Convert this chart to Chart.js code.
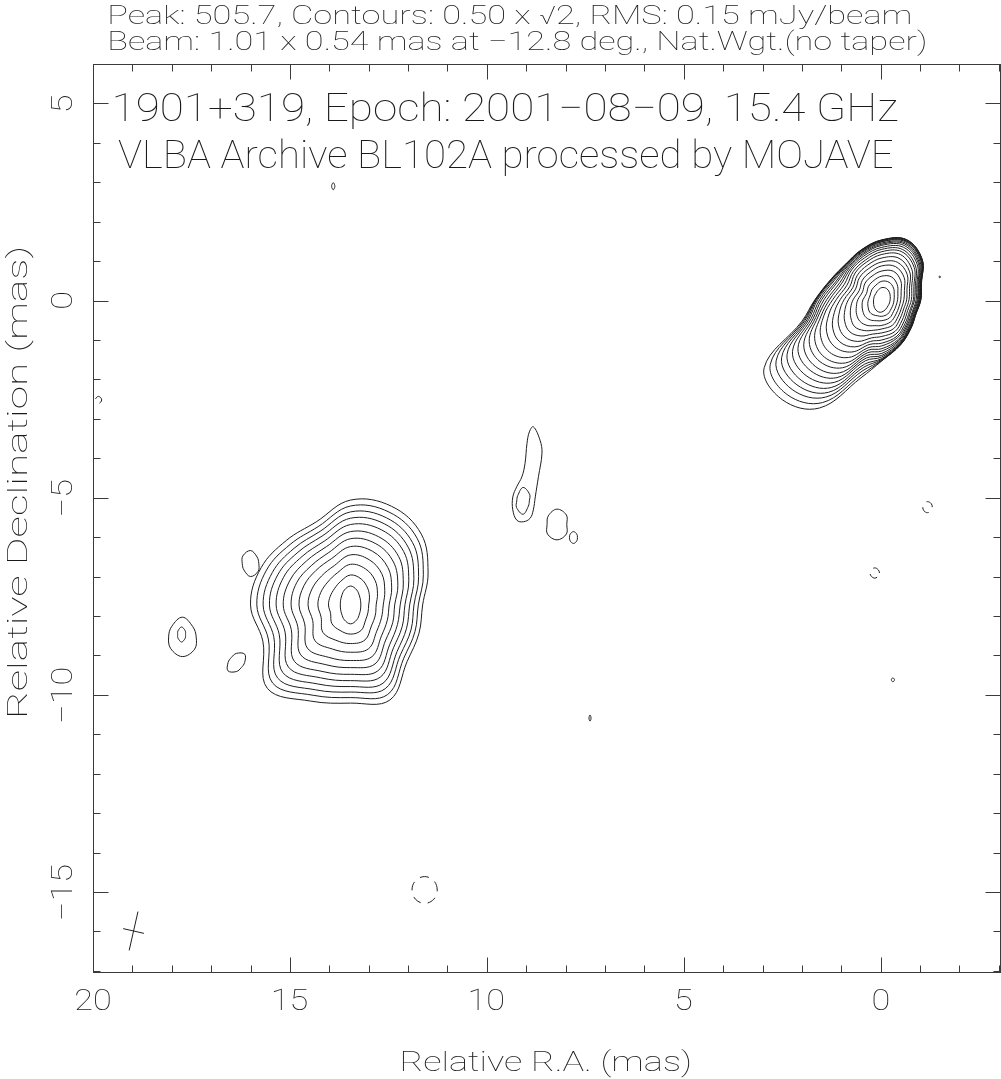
<!DOCTYPE html>
<html>
<head>
<meta charset="utf-8">
<script src="https://cdn.jsdelivr.net/npm/chart.js@4.4.1/dist/chart.umd.min.js"></script>
<style>
  html, body { margin: 0; padding: 0; background: #fff; }
  #wrap { width: 1001px; height: 1079px; }
</style>
</head>
<body>
<div id="wrap"><canvas id="map" width="1001" height="1079"></canvas></div>
<script>
// ---------------------------------------------------------
// Map data (mas). RA runs right-to-left.
// ---------------------------------------------------------
const xRange = [-3.03, 20.0];
const yRange = [-17.03, 6.0];
const xTickLabels = [20, 15, 10, 5, 0];
const yTickLabels = [5, 0, -5, -10, -15];

const headerLines = [
  'Peak: 505.7, Contours: 0.50 x \u221A2, RMS: 0.15 mJy/beam',
  'Beam: 1.01 x 0.54 mas at \u221212.8 deg., Nat.Wgt.(no taper)'
];
const titleLines = [
  '1901+319, Epoch: 2001\u221208\u221209, 15.4 GHz',
  'VLBA Archive BL102A processed by MOJAVE'
];
const xTitle = 'Relative R.A. (mas)';
const yTitle = 'Relative Declination (mas)';

// core: contour radii (mas) read along fixed directions, peak outwards
// direction 0 = towards the right of the map, counter-clockwise
const coreCentre = [-0.03, 0.02];
const coreAngles = [0, 22.5, 45, 67.5, 90, 112.5, 135, 157.5, 180, 195, 210, 225, 240, 255, 270, 292.5, 315, 337.5];
const coreRadii = [
  [0.21,0.23,0.27,0.31,0.31,0.26,0.22,0.21,0.21,0.22,0.24,0.27,0.30,0.32,0.31,0.26,0.22,0.21],
  [0.31,0.34,0.42,0.48,0.47,0.40,0.36,0.32,0.34,0.37,0.40,0.44,0.44,0.42,0.42,0.39,0.33,0.31],
  [0.40,0.44,0.55,0.63,0.60,0.53,0.48,0.42,0.48,0.52,0.56,0.60,0.59,0.55,0.53,0.50,0.42,0.39],
  [0.48,0.53,0.68,0.78,0.73,0.65,0.60,0.53,0.61,0.67,0.74,0.78,0.75,0.68,0.65,0.60,0.51,0.47],
  [0.56,0.62,0.80,0.91,0.86,0.76,0.70,0.62,0.73,0.82,0.91,0.97,0.90,0.80,0.74,0.70,0.59,0.54],
  [0.63,0.69,0.91,1.03,0.96,0.86,0.80,0.72,0.85,0.97,1.09,1.15,1.06,0.90,0.84,0.79,0.66,0.60],
  [0.69,0.76,1.00,1.14,1.06,0.95,0.88,0.80,0.96,1.11,1.27,1.33,1.22,1.00,0.93,0.87,0.73,0.66],
  [0.75,0.82,1.08,1.24,1.15,1.03,0.96,0.88,1.06,1.25,1.44,1.51,1.38,1.09,1.02,0.94,0.79,0.71],
  [0.80,0.88,1.16,1.32,1.22,1.09,1.02,0.96,1.16,1.39,1.62,1.69,1.53,1.17,1.10,1.00,0.84,0.76],
  [0.83,0.92,1.21,1.38,1.28,1.15,1.08,1.03,1.25,1.52,1.80,1.88,1.69,1.25,1.17,1.04,0.88,0.79],
  [0.87,0.96,1.27,1.44,1.33,1.20,1.12,1.10,1.33,1.60,1.97,2.06,1.85,1.32,1.24,1.09,0.91,0.83],
  [0.90,0.99,1.31,1.49,1.38,1.24,1.16,1.15,1.40,1.68,2.13,2.22,1.99,1.39,1.30,1.12,0.94,0.85],
  [0.92,1.01,1.34,1.53,1.41,1.27,1.19,1.21,1.47,1.74,2.29,2.39,2.14,1.46,1.36,1.15,0.97,0.87],
  [0.94,1.03,1.37,1.56,1.44,1.30,1.22,1.25,1.53,1.80,2.46,2.55,2.28,1.53,1.41,1.18,0.99,0.89],
  [0.95,1.05,1.40,1.59,1.47,1.32,1.24,1.30,1.58,1.86,2.62,2.72,2.42,1.60,1.45,1.20,1.00,0.91],
  [0.97,1.06,1.41,1.61,1.48,1.34,1.26,1.33,1.63,1.92,2.78,2.89,2.57,1.69,1.49,1.21,1.02,0.92],
  [0.97,1.07,1.43,1.62,1.50,1.35,1.27,1.36,1.66,1.97,2.94,3.05,2.71,1.77,1.51,1.22,1.02,0.92],
  [0.98,1.08,1.44,1.64,1.51,1.36,1.28,1.37,1.68,2.02,3.10,3.22,2.85,1.86,1.53,1.23,1.03,0.93],
  [0.99,1.085,1.445,1.645,1.515,1.365,1.285,1.38,1.69,2.06,3.27,3.40,3.01,1.96,1.54,1.235,1.035,0.935],
  [0.99,1.09,1.45,1.65,1.52,1.37,1.29,1.39,1.70,2.10,3.45,3.58,3.17,2.05,1.55,1.24,1.04,0.94]
];

// jet knot near (13.5, -7.7)
const jetCentre = [13.46, -7.72];
const jetAngles = [0, 22.5, 45, 67.5, 90, 112.5, 135, 157.5, 180, 202.5, 225, 247.5, 270, 292.5, 315, 337.5];
const jetRadii = [
  [0.26,0.275,0.32,0.41,0.48,0.41,0.32,0.275,0.26,0.275,0.32,0.41,0.48,0.41,0.32,0.275],
  [0.46,0.52,0.61,0.71,0.76,0.65,0.58,0.56,0.56,0.55,0.67,0.70,0.74,0.70,0.54,0.48],
  [0.65,0.74,0.88,0.99,1.03,0.88,0.82,0.82,0.83,0.81,0.99,0.97,0.98,0.96,0.75,0.68],
  [0.83,0.94,1.12,1.24,1.27,1.08,1.04,1.06,1.08,1.04,1.28,1.21,1.20,1.20,0.94,0.85],
  [0.98,1.13,1.34,1.47,1.48,1.27,1.24,1.28,1.31,1.26,1.55,1.44,1.41,1.42,1.11,1.01],
  [1.12,1.30,1.54,1.68,1.68,1.44,1.41,1.48,1.51,1.45,1.79,1.64,1.59,1.62,1.26,1.16],
  [1.26,1.45,1.73,1.87,1.86,1.60,1.58,1.66,1.71,1.63,2.02,1.83,1.76,1.81,1.41,1.29],
  [1.38,1.60,1.91,2.06,2.04,1.75,1.74,1.84,1.89,1.80,2.23,2.00,1.92,1.98,1.54,1.42],
  [1.50,1.74,2.07,2.23,2.20,1.89,1.89,2.00,2.06,1.96,2.43,2.17,2.07,2.15,1.67,1.54],
  [1.61,1.87,2.23,2.39,2.36,2.02,2.03,2.15,2.22,2.11,2.62,2.33,2.21,2.30,1.79,1.66],
  [1.72,2.00,2.39,2.55,2.51,2.15,2.17,2.31,2.38,2.26,2.80,2.48,2.35,2.46,1.91,1.77],
  [1.83,2.13,2.54,2.71,2.66,2.28,2.31,2.46,2.54,2.41,2.99,2.64,2.49,2.61,2.03,1.88]
];

// small islands: centre, radii along 8 directions, sign of the contour level
const islandAngles = [0, 45, 90, 135, 180, 225, 270, 315];
const islandX = [17.73, 17.75, 16.00, 16.36, 9.08, 8.22, 7.80, 13.90, -1.50, -0.31, 7.38, 11.58, -1.19, 0.15, 19.86];
const islandY = [-8.53, -8.47, -6.67, -9.18, -5.08, -5.68, -6.01, 2.90, 0.60, -9.62, -10.59, -14.95, -5.24, -6.91, -2.52];
const islandRadii = [
  [0.35,0.37,0.50,0.38,0.35,0.42,0.50,0.44],
  [0.10,0.13,0.19,0.13,0.10,0.13,0.19,0.13],
  [0.21,0.235,0.33,0.275,0.21,0.235,0.33,0.275],
  [0.21,0.30,0.23,0.18,0.21,0.30,0.23,0.18],
  [0.16,0.235,0.34,0.19,0.16,0.235,0.34,0.19],
  [0.25,0.34,0.39,0.31,0.25,0.34,0.39,0.34],
  [0.10,0.12,0.15,0.12,0.10,0.12,0.15,0.12],
  [0.04,0.05,0.09,0.05,0.04,0.05,0.09,0.05],
  [0.02,0.02,0.02,0.02,0.02,0.02,0.02,0.02],
  [0.04,0.04,0.05,0.04,0.04,0.04,0.05,0.04],
  [0.025,0.035,0.08,0.035,0.025,0.035,0.08,0.035],
  [0.32,0.33,0.34,0.33,0.32,0.33,0.34,0.33],
  [0.12,0.13,0.14,0.13,0.12,0.13,0.14,0.13],
  [0.12,0.12,0.13,0.12,0.12,0.12,0.13,0.12],
  [0.08,0.08,0.09,0.08,0.08,0.08,0.09,0.08]
];
const islandSign = [1, 1, 1, 1, 1, 1, 1, 1, 1, 1, 1, -1, -1, -1, -1];

// elongated feature near (8.9, -4.5), outer contour traced point by point
const ridgeX = [8.82, 8.65, 8.60, 8.69, 8.77, 8.82, 8.90, 9.07, 9.24, 9.34, 9.34, 9.24, 9.11, 9.03, 8.98, 8.92];
const ridgeY = [-3.20, -3.54, -3.87, -4.47, -4.98, -5.31, -5.52, -5.61, -5.57, -5.31, -4.98, -4.72, -4.47, -4.13, -3.62, -3.33];

// restoring beam cross: centre, axes (mas), position angle (deg)
const beamCentre = [18.97, -15.99];
const beamAxes = [1.01, 0.54];
const beamPA = -12.8;

// ---------------------------------------------------------
// build datasets
// ---------------------------------------------------------
const INK = '#1e1e1e';

function ring(cx, cy, angles, radii) {
  return angles.map((a, i) => {
    const t = a * Math.PI / 180;
    return { x: cx - radii[i] * Math.cos(t), y: cy + radii[i] * Math.sin(t) };
  });
}

function contour(points, dashed) {
  return {
    data: points,
    showLine: true,
    closed: true,
    borderColor: INK,
    borderWidth: 1,
    borderDash: dashed ? [9, 7] : [],
    pointRadius: 0,
    tension: 0.38,
    fill: false
  };
}

const datasets = [];
coreRadii.forEach(r => datasets.push(contour(ring(coreCentre[0], coreCentre[1], coreAngles, r), false)));
jetRadii.forEach(r => datasets.push(contour(ring(jetCentre[0], jetCentre[1], jetAngles, r), false)));
islandX.forEach((x, i) => datasets.push(contour(ring(x, islandY[i], islandAngles, islandRadii[i]), islandSign[i] < 0)));
datasets.push(contour(ridgeX.map((x, i) => ({ x: x, y: ridgeY[i] })), false));

// beam cross: major and minor axis
const pa = beamPA * Math.PI / 180;
const majHalf = beamAxes[0] / 2, minHalf = beamAxes[1] / 2;
[[majHalf * Math.sin(pa), majHalf * Math.cos(pa)], [minHalf * Math.cos(pa), -minHalf * Math.sin(pa)]].forEach(d => {
  // d = (towards east, towards north); east is +x in data
  datasets.push({
    data: [
      { x: beamCentre[0] + d[0], y: beamCentre[1] + d[1] },
      { x: beamCentre[0] - d[0], y: beamCentre[1] - d[1] }
    ],
    showLine: true, borderColor: INK, borderWidth: 1, pointRadius: 0, tension: 0
  });
});

// ---------------------------------------------------------
// plugins: closed smooth contours, frame, ticks and lettering
// ---------------------------------------------------------
const closeLoops = {
  id: 'closeLoops',
  afterDatasetUpdate(chart, args) {
    const ds = chart.data.datasets[args.index];
    if (ds.closed && args.meta.dataset) {
      args.meta.dataset._loop = true;
      args.meta.dataset._fullLoop = true;
    }
  }
};

const FAMILY = 'Roboto, "Liberation Sans", sans-serif';
const WEIGHT = 100;
const TEXT = '#1a1a1a';

function capRatio(ctx) {
  ctx.font = WEIGHT + ' 100px ' + FAMILY;
  return ctx.measureText('H').actualBoundingBoxAscent / 100;
}

// draws str with its ink starting at (x, base), cap height cap, stretched to width (if given)
function letter(ctx, str, x, base, cap, width, rot, stretch) {
  const size = cap / capRatio(ctx);
  ctx.save();
  ctx.font = WEIGHT + ' ' + size + 'px ' + FAMILY;
  ctx.fillStyle = TEXT;
  ctx.textAlign = 'left';
  ctx.textBaseline = 'alphabetic';
  const m = ctx.measureText(str);
  const ink = m.actualBoundingBoxLeft + m.actualBoundingBoxRight;
  const sx = width ? width / ink : (stretch || 1);
  ctx.translate(x, base);
  if (rot) ctx.rotate(rot);
  ctx.scale(sx, 1);
  ctx.fillText(str, m.actualBoundingBoxLeft, 0);
  ctx.restore();
  return ink * sx;
}

function inkWidth(ctx, str, cap) {
  const size = cap / capRatio(ctx);
  ctx.font = WEIGHT + ' ' + size + 'px ' + FAMILY;
  const m = ctx.measureText(str);
  return m.actualBoundingBoxLeft + m.actualBoundingBoxRight;
}

const frame = {
  id: 'frame',
  afterDraw(chart) {
    const ctx = chart.ctx;
    const { left, right, top, bottom } = chart.chartArea;
    const xs = chart.scales.x, ys = chart.scales.y;
    ctx.save();
    ctx.strokeStyle = '#3a3a3a';
    ctx.lineWidth = 1;
    ctx.strokeRect(left + 0.5, top + 0.5, right - left, bottom - top);

    ctx.beginPath();
    for (let v = Math.ceil(xRange[0]); v <= Math.floor(xRange[1]); v++) {
      const px = Math.round(xs.getPixelForValue(v)) + 0.5;
      const len = v % 5 === 0 ? 15 : 7;
      ctx.moveTo(px, bottom + 0.5); ctx.lineTo(px, bottom + 0.5 - len);
      ctx.moveTo(px, top + 0.5); ctx.lineTo(px, top + 0.5 + len);
    }
    for (let v = Math.ceil(yRange[0]); v <= Math.floor(yRange[1]); v++) {
      const py = Math.round(ys.getPixelForValue(v)) + 0.5;
      const len = v % 5 === 0 ? 15 : 7;
      ctx.moveTo(left + 0.5, py); ctx.lineTo(left + 0.5 + len, py);
      ctx.moveTo(right + 0.5, py); ctx.lineTo(right + 0.5 - len, py);
    }
    ctx.stroke();
    ctx.restore();

    // tick labels
    const tickCap = 21;
    const stretch = 35 / inkWidth(ctx, '20', tickCap);
    xTickLabels.forEach(v => {
      const s = String(v).replace('-', '\u2212');
      const w = inkWidth(ctx, s, tickCap) * stretch;
      letter(ctx, s, xs.getPixelForValue(v) - w / 2, 1010, tickCap, 0, 0, stretch);
    });
    yTickLabels.forEach(v => {
      const s = String(v).replace('-', '\u2212');
      const w = inkWidth(ctx, s, tickCap) * stretch;
      letter(ctx, s, 72, ys.getPixelForValue(v) + w / 2, tickCap, 0, -Math.PI / 2, stretch);
    });

    // lettering
    letter(ctx, headerLines[0], 110, 24, 18, 800);
    letter(ctx, headerLines[1], 110, 50, 18, 815);
    letter(ctx, titleLines[0], 115, 121, 27, 783);
    letter(ctx, titleLines[1], 118, 168, 27, 775);
    letter(ctx, xTitle, 402, 1071, 20, 288);
    letter(ctx, yTitle, 27, 716, 20, 468, -Math.PI / 2);
  }
};

new Chart(document.getElementById('map'), {
  type: 'scatter',
  data: { datasets: datasets },
  options: {
    responsive: false,
    animation: false,
    devicePixelRatio: 1,
    layout: { padding: { left: 93, top: 64, right: 1, bottom: 107 } },
    plugins: { legend: { display: false }, tooltip: { enabled: false } },
    scales: {
      x: { type: 'linear', reverse: true, min: xRange[0], max: xRange[1], display: false },
      y: { type: 'linear', min: yRange[0], max: yRange[1], display: false }
    }
  },
  plugins: [closeLoops, frame]
});
</script>
</body>
</html>
